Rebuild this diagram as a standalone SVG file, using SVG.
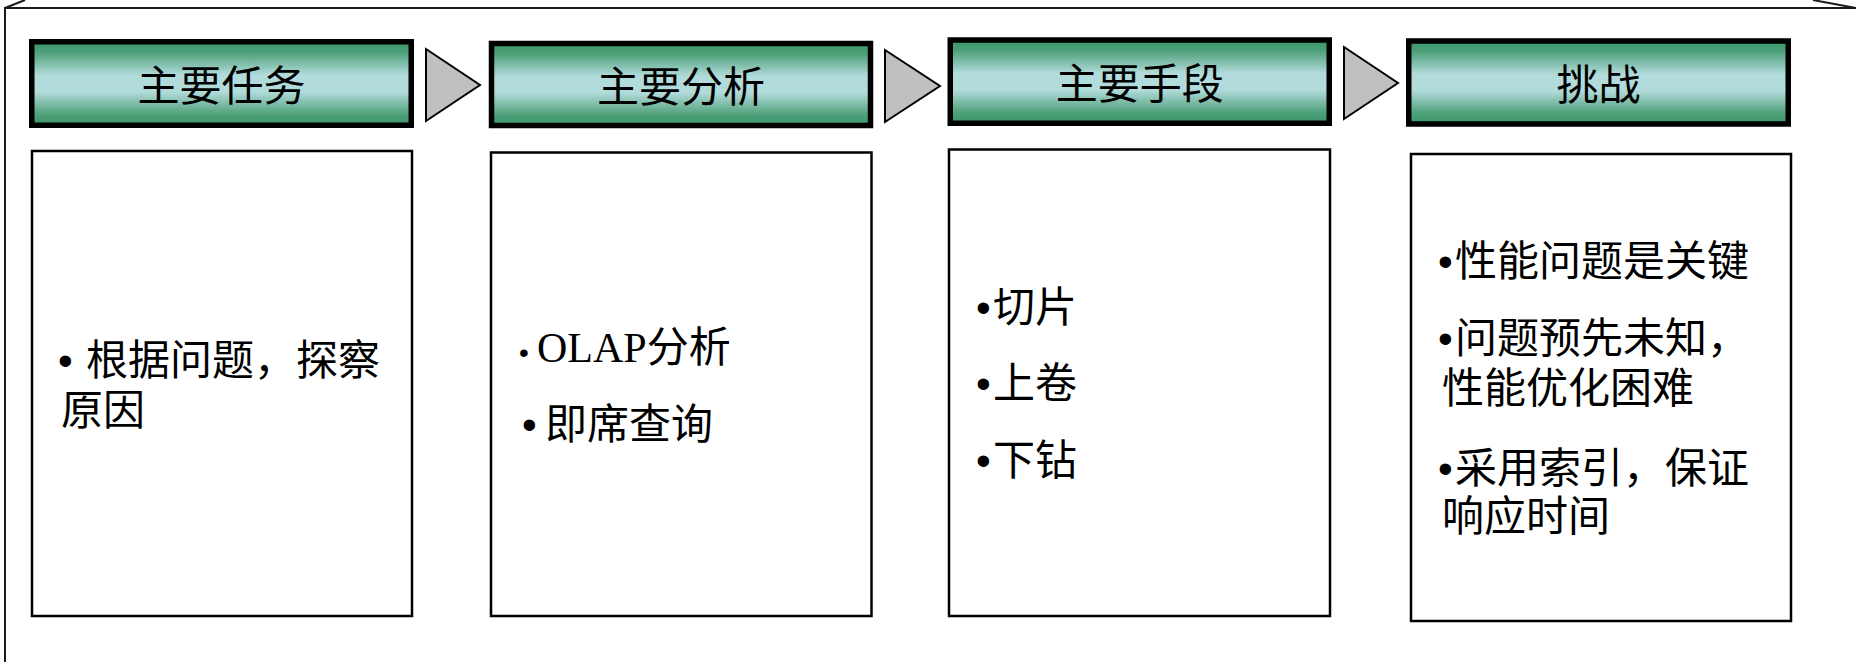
<svg xmlns="http://www.w3.org/2000/svg" width="1856" height="662" viewBox="0 0 1856 662">
<defs>
<linearGradient id="hdrGrad" x1="0" y1="0" x2="0" y2="1">
<stop offset="0" stop-color="#3b966a"/>
<stop offset="0.12" stop-color="#4c9f77"/>
<stop offset="0.4" stop-color="#b2dbdb"/>
<stop offset="0.6" stop-color="#b2dbdb"/>
<stop offset="0.88" stop-color="#4c9f77"/>
<stop offset="1" stop-color="#3b966a"/>
</linearGradient>
<style>
.frame{fill:none;stroke:#1a1a1a;stroke-width:2}
.hdr{fill:url(#hdrGrad);stroke:#000;stroke-width:5.5}
.hdrText{font-family:"Noto Sans CJK SC","Liberation Serif",serif;font-size:42px;fill:#000;text-anchor:middle}
.body{fill:#fff;stroke:#000;stroke-width:2.5}
.txt{font-family:"Liberation Serif","Noto Sans CJK SC",serif;font-size:42px;fill:#000}
.cjk{font-family:"Noto Sans CJK SC",sans-serif}
.bul{font-family:"Liberation Sans",sans-serif}
.arrow{fill:#c0c0c0;stroke:#000;stroke-width:2;stroke-linejoin:miter}
</style>
</defs>
<rect width="1856" height="662" fill="#fff"/>
<g id="frame">
<path class="frame" d="M5,662 V8 H1856"/>
<path class="frame" d="M5,8 L25,0"/>
<path class="frame" d="M1813,0 L1856,8"/>
</g>
<g id="connectors">
<polygon class="arrow" points="426,49 480,85 426,121"/>
<polygon class="arrow" points="885,50 940,86 885,122"/>
<polygon class="arrow" points="1344,47 1398,83 1344,119"/>
</g>
<g id="node-task">
<rect class="hdr" x="31.75" y="41.75" width="379.5" height="83.5"/>
<text class="hdrText" x="221.5" y="101">主要任务</text>
<rect class="body" x="32" y="151" width="380" height="465"/>
<text class="txt" y="374.5"><tspan class="bul" x="58">•</tspan><tspan class="cjk" x="86">根据问题，探察</tspan><tspan class="cjk" x="61" y="425">原因</tspan></text>
</g>
<g id="node-analysis">
<rect class="hdr" x="491.5" y="43.5" width="379" height="82"/>
<text class="hdrText" x="681" y="101.5">主要分析</text>
<rect class="body" x="491" y="152.5" width="380.5" height="463.5"/>
<text class="txt" y="362"><tspan class="bul" x="519" font-size="28">•</tspan><tspan x="537">OLAP</tspan><tspan class="cjk">分析</tspan></text>
<text class="txt" y="439"><tspan class="bul" x="522">•</tspan><tspan class="cjk" x="545">即席查询</tspan></text>
</g>
<g id="node-means">
<rect class="hdr" x="950.25" y="40" width="379" height="83.25"/>
<text class="hdrText" x="1139.75" y="99">主要手段</text>
<rect class="body" x="949" y="149.5" width="381" height="466.5"/>
<text class="txt" y="322"><tspan class="bul" x="976">•</tspan><tspan class="cjk" x="993">切片</tspan></text>
<text class="txt" y="397.5"><tspan class="bul" x="976">•</tspan><tspan class="cjk" x="993">上卷</tspan></text>
<text class="txt" y="474.5"><tspan class="bul" x="976">•</tspan><tspan class="cjk" x="993">下钻</tspan></text>
</g>
<g id="node-challenge">
<rect class="hdr" x="1408.75" y="41" width="379.5" height="83"/>
<text class="hdrText" x="1598.5" y="100">挑战</text>
<rect class="body" x="1411" y="154" width="380" height="467"/>
<text class="txt" y="276"><tspan class="bul" x="1438">•</tspan><tspan class="cjk" x="1455">性能问题是关键</tspan></text>
<text class="txt" y="353"><tspan class="bul" x="1438">•</tspan><tspan class="cjk" x="1455">问题预先未知，</tspan><tspan class="cjk" x="1442" y="403">性能优化困难</tspan></text>
<text class="txt" y="483"><tspan class="bul" x="1438">•</tspan><tspan class="cjk" x="1455">采用索引，保证</tspan><tspan class="cjk" x="1442" y="531">响应时间</tspan></text>
</g>
</svg>
